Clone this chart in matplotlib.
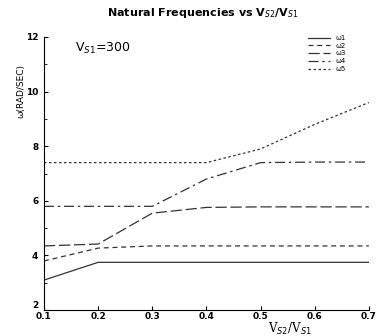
import matplotlib
matplotlib.use("Agg")
import matplotlib.pyplot as plt

ratio = [0.1, 0.2, 0.3, 0.4, 0.5, 0.6, 0.7]
w1 = [3.1, 3.75, 3.75, 3.75, 3.75, 3.75, 3.75]
w2 = [3.8, 4.27, 4.35, 4.35, 4.35, 4.35, 4.35]
w3 = [4.35, 4.42, 5.55, 5.76, 5.78, 5.78, 5.78]
w4 = [5.8, 5.8, 5.8, 6.8, 7.4, 7.42, 7.42]
w5 = [7.4, 7.4, 7.4, 7.4, 7.9, 8.8, 9.6]
labels = ["ω1", "ω2", "ω3", "ω4", "ω5"]
styles = ["-", (0, (4, 3)), (0, (9, 3)), (0, (8, 3, 2, 3)), (0, (2, 2))]

fig = plt.figure(figsize=(3.76, 3.36), dpi=100)
ax = fig.add_axes([0.117, 0.077, 0.864, 0.813])
for ys, lab, ls in zip([w1, w2, w3, w4, w5], labels, styles):
    ax.plot(ratio, ys, color="#333333", lw=0.9, ls=ls, label=lab)

ax.set_xlim(0.1, 0.7)
ax.set_ylim(2, 12)
ax.set_xticks(ratio)
ax.set_xticklabels([f"{v:.1f}" for v in ratio], fontsize=6.5, fontweight="bold")
ax.set_yticks([2, 4, 6, 8, 10, 12])
ax.set_yticklabels(["2", "4", "6", "8", "10", "12"], fontsize=6.5, fontweight="bold")
ax.set_yticks([3, 5, 7, 9, 11], minor=True)
ax.tick_params(direction="in", length=3, pad=1.5)
ax.tick_params(which="minor", direction="in", length=2)
ax.tick_params(axis="y", pad=4)
ax.get_yticklabels()[0].set_va("bottom")
ax.spines["top"].set_visible(False)
ax.spines["right"].set_visible(False)

fig.text(0.54, 0.962, "Natural Frequencies vs V$_{S2}$/V$_{S1}$", ha="center", va="center",
         fontsize=8, fontweight="bold")
fig.text(0.2, 0.855, "V$_{S1}$=300", ha="left", va="center", fontsize=9)
fig.text(0.77, 0.022, "V$_{S2}$/V$_{S1}$", ha="center", va="center", fontsize=8.5,
         family="DejaVu Serif")
fig.text(0.055, 0.73, "ω(RAD/SEC)", rotation=90, ha="center", va="center", fontsize=6.5)

leg = ax.legend(loc="upper right", bbox_to_anchor=(0.95, 1.03), frameon=False, fontsize=5,
                handlelength=3.2, labelspacing=0.25, handletextpad=0.8)

fig.savefig("out.png", dpi=100)
